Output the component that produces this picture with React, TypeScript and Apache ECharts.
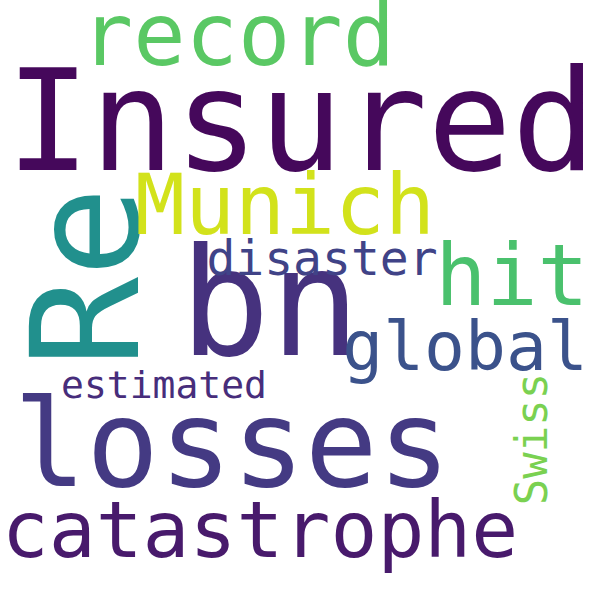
import React from "react";
import * as echarts from "echarts";

// words and their relative weight (font size in px)
const words = ["Insured", "bn", "losses", "Re", "record", "Munich", "catastrophe", "hit", "global", "disaster", "estimated", "Swiss"];
const weights = [140, 150, 121, 150, 87, 83, 78, 85, 68, 48, 38, 44];

// layout of the cloud: centre x, baseline y (centre y when rotated), rotation
const layoutX = [301, 270, 232, 86, 238, 285, 260, 512, 465, 322, 164, 531];
const layoutY = [170, 355, 487, 277, 65, 235, 557, 305, 370, 275, 398, 439];
const rotations = [0, 0, 0, 90, 0, 0, 0, 0, 0, 0, 0, 90];
const colors = ["#45085b", "#46327e", "#443a83", "#21908d", "#5ac864", "#d2e21b", "#481a6c", "#4ac16d", "#3b528b", "#404387", "#472d7b", "#7ad151"];

export default function App() {
  const chartRef = React.useRef<HTMLDivElement>(null);
  React.useEffect(() => {
    document.body.style.margin = "0";
    const chart = echarts.init(chartRef.current, null, { renderer: "svg" });
    chart.setOption({
      animation: false,
      backgroundColor: "#ffffff",
      grid: { left: 0, right: 0, top: 0, bottom: 0 },
      xAxis: { type: "value", min: 0, max: 600, show: false },
      yAxis: { type: "value", min: 0, max: 600, inverse: true, show: false },
      series: [
        {
          type: "scatter",
          symbolSize: 0,
          itemStyle: { opacity: 1 },
          data: words.map((w, i) => {
            const fs = weights[i];
            const rot = rotations[i];
            // convert baseline to text centre
            const y = rot ? layoutY[i] : layoutY[i] - 0.35 * fs;
            return {
              name: w,
              value: [layoutX[i], y],
              label: {
                show: true,
                position: "inside",
                formatter: w,
                fontFamily: "DejaVu Sans Mono",
                fontSize: fs,
                color: colors[i],
                opacity: 1,
                rotate: rot,
                align: "center",
                verticalAlign: "middle",
              },
            };
          }),
        },
      ],
    });
    return () => chart.dispose();
  }, []);
  return <div ref={chartRef} style={{ width: 600, height: 600 }} />;
}
